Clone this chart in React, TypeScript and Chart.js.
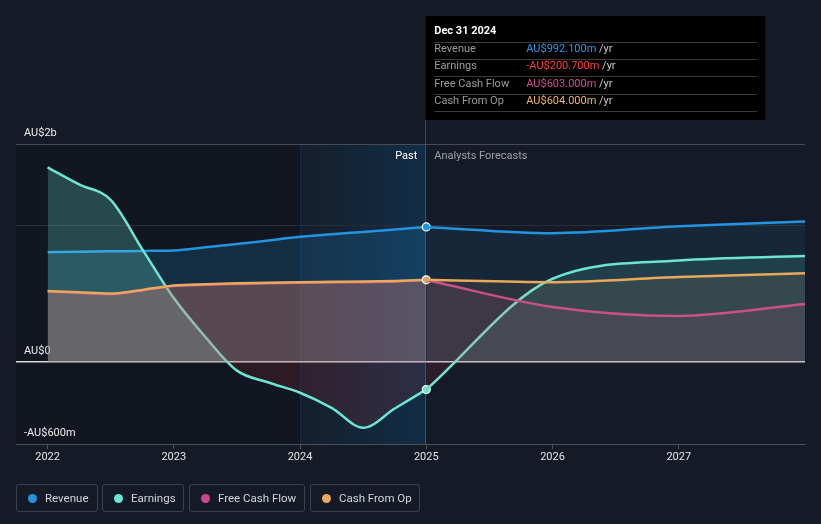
import React, { useEffect, useRef } from "react";
import { Chart, registerables } from "chart.js";

Chart.register(...registerables);

const FONT = "Roboto, 'Noto Sans', sans-serif";

// ---- data (millions AU$) ----
const pastYears = [2022, 2022.25, 2022.5, 2022.75, 2023, 2023.25, 2023.5, 2023.75, 2024, 2024.25, 2024.5, 2024.75, 2025];
const revenuePast = [807, 810, 813, 816, 819, 842, 866, 893, 920, 938, 955, 973, 992.1];
const earningsPast = [1429, 1304, 1190, 829, 470, 185, -62, -149, -224, -335, -481, -340, -200.7];
const fcfPast = [518, 508, 499, 526, 558, 568, 574, 579, 583, 585, 587, 592, 603];
const cfoPast = [522, 512, 503, 530, 562, 572, 578, 583, 587, 589, 591, 596, 604];

const forecastYears = [2025, 2026, 2027, 2028];
const revenueForecast = [992.1, 946, 997, 1031];
const earningsForecast = [-200.7, 612, 745, 778];
const fcfForecast = [603, 405, 339, 427];
const cfoForecast = [604, 587, 624, 653];

const xTickYears = [2022, 2023, 2024, 2025, 2026, 2027];
const yTickValues = [-600, 0, 1000, 1600];
const yTickLabels = ["-AU$600m", "AU$0", "", "AU$2b"];

const seriesNames = ["Revenue", "Earnings", "Free Cash Flow", "Cash From Op"];
const seriesColors = ["#2394df", "#6ce5d2", "#c8478a", "#e9a95c"];
const tooltipDate = "Dec 31 2024";
const tooltipValues = ["AU$992.100m", "-AU$200.700m", "AU$603.000m", "AU$604.000m"];
const tooltipValueColors = ["#2d97e8", "#ff3f3f", "#d24c90", "#f2b25f"];

const legendLefts = [16, 102, 189, 310];
const legendWidths = [82, 82, 116, 110];

function rgba(hex: string, a: number) {
  const n = parseInt(hex.slice(1), 16);
  return `rgba(${(n >> 16) & 255},${(n >> 8) & 255},${n & 255},${a})`;
}

function pts(xs: number[], ys: number[]) {
  return xs.map((x, i) => ({ x, y: ys[i] }));
}

const bgPlugin = {
  id: "bgPlugin",
  beforeDraw(chart: any) {
    const { ctx, chartArea: a, scales } = chart;
    const x = scales.x;
    ctx.save();
    ctx.fillStyle = "#151b26";
    ctx.fillRect(0, 0, chart.width, chart.height);
    const x24 = x.getPixelForValue(2024);
    const x25 = x.getPixelForValue(2025);
    ctx.fillStyle = "rgba(0,0,0,0.15)";
    ctx.fillRect(a.left, a.top, x24 - a.left, a.bottom - a.top);
    const g = ctx.createLinearGradient(x24, 0, x25, 0);
    g.addColorStop(0, "rgba(0,130,220,0.03)");
    g.addColorStop(1, "rgba(0,130,220,0.18)");
    ctx.fillStyle = g;
    ctx.fillRect(x24, a.top, x25 - x24, a.bottom - a.top);
    ctx.fillStyle = "rgba(35,148,223,0.12)";
    ctx.fillRect(Math.round(x24), a.top, 1, a.bottom - a.top);
    ctx.restore();
  },
  beforeDatasetsDraw(chart: any) {
    const { ctx, chartArea: a, scales } = chart;
    const x25 = Math.round(scales.x.getPixelForValue(2025)) + 0.5;
    ctx.save();
    ctx.strokeStyle = "rgba(45,120,180,0.55)";
    ctx.lineWidth = 1;
    ctx.beginPath();
    ctx.moveTo(x25 - 1, 16);
    ctx.lineTo(x25 - 1, a.bottom);
    ctx.stroke();
    ctx.restore();
  },
  afterDatasetsDraw(chart: any) {
    const { ctx, chartArea: a, scales } = chart;
    const x25 = scales.x.getPixelForValue(2025);
    ctx.save();
    ctx.font = `11px ${FONT}`;
    ctx.textBaseline = "middle";
    ctx.textAlign = "right";
    ctx.fillStyle = "#ffffff";
    ctx.fillText("Past", x25 - 9, a.top + 12);
    ctx.textAlign = "left";
    ctx.fillStyle = "#9aa0a8";
    ctx.fillText("Analysts Forecasts", x25 + 8, a.top + 12);
    ctx.restore();
  },
  afterDraw(chart: any) {
    const { ctx, scales } = chart;
    const x25 = scales.x.getPixelForValue(2025);
    const left = x25 - 1;
    const top = 16;
    const w = 340;
    const h = 104;
    ctx.save();
    ctx.fillStyle = "#000000";
    ctx.fillRect(left, top, w, h);
    ctx.textBaseline = "middle";
    ctx.textAlign = "left";
    ctx.font = `bold 11px ${FONT}`;
    ctx.fillStyle = "#ffffff";
    ctx.fillText(tooltipDate, left + 9, top + 15);
    const sepYs = [42, 58.5, 76, 93.5, 111];
    ctx.strokeStyle = "#3a3a3a";
    ctx.lineWidth = 1;
    sepYs.forEach((y) => {
      ctx.beginPath();
      ctx.moveTo(left + 9, Math.round(y) + 0.5);
      ctx.lineTo(left + w - 8, Math.round(y) + 0.5);
      ctx.stroke();
    });
    const rowYs = [49.5, 66.5, 84, 101];
    ctx.font = `11px ${FONT}`;
    seriesNames.forEach((name, i) => {
      ctx.fillStyle = "#9c9c9c";
      ctx.fillText(name, left + 9, rowYs[i]);
      ctx.fillStyle = tooltipValueColors[i];
      const vx = left + 101;
      ctx.fillText(tooltipValues[i], vx, rowYs[i]);
      const vw = ctx.measureText(tooltipValues[i]).width;
      ctx.fillStyle = "#c8c8c8";
      ctx.fillText(" /yr", vx + vw, rowYs[i]);
    });
    ctx.restore();
  },
};

export default function App() {
  const ref = useRef<HTMLCanvasElement | null>(null);

  useEffect(() => {
    const canvas = ref.current;
    if (!canvas) return;
    const isDot = (c: any) => c.raw && c.raw.x === 2025;
    const mk = (label: string, xs: number[], ys: number[], idx: number, past: boolean, order: number) => {
      const color = seriesColors[idx];
      const alphas = past ? [0.18, 0.25, 0.2, 0.19] : [0.1, 0.12, 0.12, 0.1];
      return {
        label,
        data: pts(xs, ys),
        borderColor: color,
        borderWidth: 2.5,
        backgroundColor: rgba(color, alphas[idx]),
        fill:
          idx === 1
            ? { target: "origin", above: rgba(color, alphas[idx]), below: "rgba(200,55,70,0.15)" }
            : "origin",
        cubicInterpolationMode: "monotone",
        pointRadius: past && idx !== 2 ? (c: any) => (isDot(c) ? 4 : 0) : 0,
        pointBackgroundColor: color,
        pointBorderColor: "#ffffff",
        pointBorderWidth: 1.2,
        pointHoverRadius: 0,
        order,
      };
    };

    const chart = new Chart(canvas, {
      type: "line",
      data: {
        datasets: [
          mk("Revenue", pastYears, revenuePast, 0, true, 7),
          mk("Earnings", pastYears, earningsPast, 1, true, 6),
          mk("Free Cash Flow", pastYears, fcfPast, 2, true, 5),
          mk("Cash From Op", pastYears, cfoPast, 3, true, 4),
          mk("Revenue", forecastYears, revenueForecast, 0, false, 3),
          mk("Earnings", forecastYears, earningsForecast, 1, false, 2),
          mk("Free Cash Flow", forecastYears, fcfForecast, 2, false, 1),
          mk("Cash From Op", forecastYears, cfoForecast, 3, false, 0),
        ] as any,
      },
      options: {
        responsive: false,
        devicePixelRatio: 1,
        animation: false,
        events: [],
        layout: { padding: { top: 144, left: 16, right: 16, bottom: 0 } },
        plugins: {
          legend: { display: false },
          tooltip: { enabled: false },
        },
        scales: {
          x: {
            type: "linear",
            min: 2021.75,
            max: 2028,
            afterFit: (s: any) => {
              s.height = 80;
            },
            afterBuildTicks: (s: any) => {
              s.ticks = xTickYears.map((v) => ({ value: v }));
            },
            ticks: {
              color: "#e4e4e4",
              font: { family: FONT, size: 11 },
              padding: 2,
              maxRotation: 0,
              autoSkip: false,
              callback: (v: any) => String(v),
            },
            grid: {
              drawOnChartArea: false,
              drawTicks: true,
              tickLength: 5,
              color: "#4b505a",
            },
            border: { display: true, color: "#4b505a", width: 1 },
          },
          y: {
            type: "linear",
            min: -600,
            max: 1600,
            afterFit: (s: any) => {
              s.width = 0;
            },
            afterBuildTicks: (s: any) => {
              s.ticks = yTickValues.map((v) => ({ value: v }));
            },
            ticks: {
              mirror: true,
              padding: 8,
              labelOffset: -11,
              color: "#ececec",
              font: { family: FONT, size: 11 },
              callback: (v: any) => {
                const i = yTickValues.indexOf(Number(v));
                return i >= 0 ? yTickLabels[i] : "";
              },
            },
            grid: {
              drawTicks: false,
              lineWidth: (c: any) => (c.tick && c.tick.value === 0 ? 1.5 : 1),
              color: (c: any) => {
                const v = c.tick ? c.tick.value : null;
                if (v === 0) return "#d8d8d8";
                if (v === 1000) return "#2a2e38";
                if (v === 1600) return "#464b55";
                return "#3a3f48";
              },
            },
            border: { display: false },
          },
        },
      } as any,
      plugins: [bgPlugin],
    });
    return () => chart.destroy();
  }, []);

  return (
    <div
      style={{
        position: "fixed",
        left: 0,
        top: 0,
        width: 821,
        height: 524,
        background: "#151b26",
        overflow: "hidden",
        fontFamily: FONT,
      }}
    >
      <canvas ref={ref} width={821} height={524} style={{ display: "block", width: 821, height: 524 }} />
      {seriesNames.map((name, i) => (
        <div
          key={name}
          style={{
            position: "absolute",
            left: legendLefts[i],
            top: 484,
            width: legendWidths[i],
            height: 28,
            boxSizing: "border-box",
            border: "1px solid #3c414b",
            borderRadius: 3,
            display: "flex",
            alignItems: "center",
            paddingLeft: 11,
            color: "#d2d4d8",
            fontSize: 11.5,
            whiteSpace: "nowrap",
          }}
        >
          <span
            style={{
              display: "inline-block",
              width: 9,
              height: 9,
              borderRadius: "50%",
              background: seriesColors[i],
              marginRight: 8,
            }}
          />
          {name}
        </div>
      ))}
    </div>
  );
}
